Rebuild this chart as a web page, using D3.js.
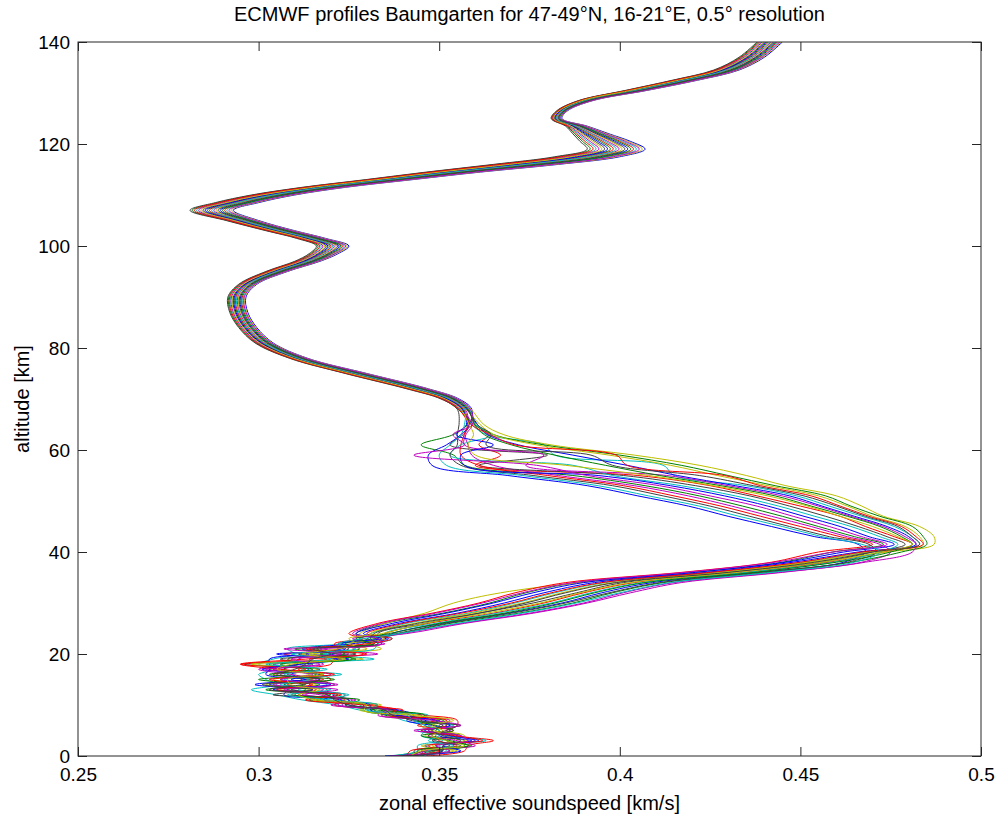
<!DOCTYPE html>
<html>
<head>
<meta charset="utf-8">
<script src="https://cdn.jsdelivr.net/npm/d3@7"></script>
<style>
  body { margin: 0; background: #fff; }
  text { font-family: "Liberation Sans", Arial, Helvetica, sans-serif; fill: #000; }
</style>
</head>
<body>
<svg id="chart" width="999" height="819"></svg>
<script>
// altitude levels [km]
const levels = [0,1,2,3,4,5,6,7,8,9,10,11,12,13,14,15,16,17,18,19,20,21,22,23,24,26,28,30,32,34,36,38,40,41.5,43,45,47,49,51,53,55,57,59,61,63,65,
  68,70,72,75,78,81,84,87,90,92.5,95,97,98.5,100,101.5,103,105,107,108.5,110,111.5,113,114.5,116,117.5,119,120.5,122,123.5,125,126.5,128.5,130.5,132.5,134.5,137,140];

// mean effective soundspeed at each level [m/s]
const meanSpeed = [341,349,352,355,351,349,350,347,340,334,327,320,315,311,311,311,312,309,308,317,319,320,328,331,333,345,362,376,387,401,431,455,471,480,476,469,460,450,439,424,405,390,377,367,361,359,
  357,353,344,327,311,301.5,297,294.5,294,297,305,313.5,318,320.5,314.5,306,295.5,287,294,304,318,336,354,374,391,399,396,392,388,382.5,384,390.5,404.5,418,429.5,436.5,441.5];

// half width of the ordered band above 65 km [m/s]
const bandHalf = [0,0,0,0,0,0,0,0,0,0,0,0,0,0,0,0,0,0,0,0,0,0,0,0,0,0,0,0,0,0,0,0,0,0,0,0,0,0,0,0,0,0,0,0,1,1.5,
  2,2.5,3,3,2.5,2.5,2.5,2.5,2.5,2.5,3,3.5,4,4.5,4,4,4.5,6,6,6,6,6.5,7.5,9,9,8,7,5,3,1.5,1.5,2,3,3.5,3.5,3.5,3.5];

// position of each profile inside that band
const bandRank = [1.0,-0.2,0.6,-0.7,0.1,0.9,-0.4,0.4,-0.9,-0.1,0.7,-0.6,0.2,-1.0,-0.3,0.5,-0.8,0.0,0.8,-0.5,0.3];

// deviation from mean, 0-23 km [m/s]
const tropoDev = [
  [2,4,-3,6,2,-2,3,-1,2,4,-3,5,-6,4,-8,6,-3,5,-4,8,-6,3,-2,4],
  [-4,-2,5,2,-3,1,-4,3,-2,-5,2,-4,7,-3,6,-5,4,-6,3,-9,5,-4,3,-3],
  [5,8,6,10,4,3,5,8,6,3,5,2,4,8,3,9,5,2,12,4,10,6,4,2],
  [-6,-5,-8,-4,-6,-3,-5,-7,-4,-6,-5,-8,-10,-13,-6,-9,-12,-4,-8,-13,-9,-12,-5,-3],
  [1,-3,2,-1,4,-2,1,3,-1,2,-4,6,-2,7,-4,2,8,-5,10,-3,14,-2,6,3],
  [-2,6,-4,3,-5,2,-3,5,-6,0,4,-2,-6,3,-9,4,-2,3,-5,12,-4,14,2,-4],
  [3,-6,1,-7,3,-4,6,-2,5,-3,6,2,9,-2,10,3,-6,8,-12,6,-8,5,-6,2],
  [-3,2,-6,4,-1,4,-2,-6,3,5,-2,3,-8,-3,-12,2,-10,-6,-5,-14,2,-8,-2,5],
  [4,0,7,-3,5,0,2,4,-5,-2,3,-6,5,-9,2,-11,6,-2,3,10,-2,8,-4,1],
  [0,-7,3,-5,-2,5,-6,2,-3,6,-6,4,-4,5,-3,7,-8,4,-13,2,-12,2,-7,-2],
  [-5,3,-2,8,1,-5,4,-4,7,-4,1,-3,10,0,8,-4,11,3,6,15,-1,12,5,6],
  [6,-4,8,0,-4,4,0,6,-7,1,-7,7,-3,11,-7,5,-3,-9,2,-6,6,-3,7,-5],
  [-1,5,-7,2,6,-1,-5,1,4,-6,7,-5,3,-5,5,-7,2,7,-10,4,-5,10,-3,4],
  [2,-1,4,-6,-4,3,5,-5,-1,3,-1,5,-11,4,-10,1,-4,-2,7,-11,8,-6,1,-1],
  [-6,7,-1,5,2,-3,3,2,-2,-3,4,-2,6,-7,9,-2,5,-8,4,5,-14,4,-5,3],
  [3,-5,6,-2,-6,5,-1,-3,6,-1,-3,8,-5,2,-4,10,-9,6,-2,9,3,-10,4,-4],
  [-3,1,-5,7,3,-4,2,5,-4,4,2,-7,8,-6,4,-8,9,-3,-13,-4,11,-7,2,6],
  [5,-2,2,-8,-1,1,-4,-4,1,-4,6,0,-7,9,-5,3,-5,10,-6,3,-10,7,-6,-2],
  [-5,4,-3,3,5,-6,6,1,-6,2,-5,3,2,-4,11,-5,3,-7,9,-8,4,-13,6,2],
  [1,-4,5,-3,-3,2,-2,7,2,-5,3,-4,-4,6,-2,-3,6,-4,1,7,-7,2,-1,-6],
  [-2,2,-1,1,0,-1,1,-3,-3,1,-2,1,4,-8,1,6,-7,1,5,-2,1,-5,5,0]
];

// deviation from mean, 24-40 km [m/s]
const stratoDev = [
  [4,6,7,8,8,8,7,7,-3],
  [-6,-10,-11,-12,-13,-13,-11,-10,-12],
  [2,2,3,3,3,3,3,3,2],
  [-2,-4,-4,-5,-5,-5,-4,-4,-3],
  [7,11,13,14,14,14,13,12,4],
  [-5,-10,-16,-22,-20,-12,-7,-2,3],
  [0,1,-1,0,1,0,-1,1,-1],
  [-4,-6,-7,-8,-8,-8,-7,-7,-5],
  [6,8,10,11,11,11,10,9,7],
  [-8,-12,-14,-15,-16,-16,-14,-13,-16],
  [2,4,4,5,5,5,4,4,1],
  [8,12,14,15,16,16,14,13,10],
  [-2,-2,-3,-3,-3,-3,-3,-3,-2],
  [5,7,8,9,10,10,8,8,0],
  [-6,-8,-10,-11,-11,-11,-10,-9,-9],
  [3,5,6,6,6,6,6,5,4],
  [-3,-5,-6,-6,-6,-6,-6,-5,-4],
  [6,10,11,12,13,13,11,10,1],
  [-7,-11,-13,-14,-14,-14,-13,-12,-12],
  [1,1,1,2,2,2,1,1,1],
  [-1,-1,-1,-2,-2,-2,-1,-1,-1]
];

// deviation from mean, 41.5-65 km [m/s]
const mesoDev = [
  [-14,-22,-27,-30,-31,-34,-33,-36,-42,-30,-15,-6,-2],
  [-7,-11,-14,-15,-16,-17,-17,-18,-33,-23,-22,-7,-1],
  [1,0,-1,1,0,-1,1,0,-30,-10,-6,2,0],
  [3,5,7,7,8,10,11,10,22,5,12,3,1],
  [-8,-13,-16,-18,-19,-20,-20,-22,-25,-18,-9,-4,-1],
  [7,11,14,13,17,21,22,30,32,27,14,6,2],
  [-1,-2,-3,-3,-3,-3,-3,-4,-29,3,-14,-4,0],
  [2,4,5,5,6,8,8,11,12,10,5,2,1],
  [5,8,12,12,14,18,19,25,27,23,12,5,2],
  [-10,-15,-19,-21,-22,-24,-23,-25,-29,-21,-11,-4,-1],
  [-3,-4,-5,-6,-6,-7,-7,-7,-3,-24,-11,3,0],
  [2,3,4,4,5,6,6,8,-16,2,-10,-3,1],
  [4,7,10,10,13,16,17,22,24,20,10,4,2],
  [-11,-18,-22,-24,-25,-27,-26,-29,-34,-24,-12,-5,-2],
  [-4,-7,-8,-9,-9,-10,-10,-11,-33,-21,-2,-6,-1],
  [1,2,3,3,3,4,4,6,6,5,3,1,0],
  [4,6,9,9,11,14,15,24,12,22,4,4,1],
  [-13,-20,-24,-27,-28,-31,-30,-32,-38,-27,-14,-5,-2],
  [-6,-9,-11,-12,-12,-14,-13,-14,-13,-34,-10,-8,-1],
  [1,1,1,1,2,2,2,3,-5,-17,-9,-1,0],
  [3,5,8,8,10,12,13,17,8,15,-4,3,1]
];

const lineColors = ['#0000ff', '#008000', '#ff0000', '#00bfbf', '#bf00bf', '#bfbf00', '#404040'];
const xTicks = [0.25, 0.3, 0.35, 0.4, 0.45, 0.5];
const yTicks = [0, 20, 40, 60, 80, 100, 120, 140];

const titleText = 'ECMWF profiles Baumgarten for 47-49°N, 16-21°E, 0.5° resolution';
const xLabel = 'zonal effective soundspeed [km/s]';
const yLabel = 'altitude [km]';

const margin = { top: 42, right: 18, bottom: 63, left: 78 };
const width = 999 - margin.left - margin.right;
const height = 819 - margin.top - margin.bottom;

const svg = d3.select('#chart');
const g = svg.append('g').attr('transform', `translate(${margin.left},${margin.top})`);

const x = d3.scaleLinear().domain([0.25, 0.5]).range([0, width]);
const y = d3.scaleLinear().domain([0, 140]).range([height, 0]);

g.append('clipPath').attr('id', 'plot-clip')
  .append('rect').attr('width', width).attr('height', height);

// one row per profile
const profiles = bandRank.map((rank, p) => {
  const dev = tropoDev[p].concat(stratoDev[p], mesoDev[p]);
  return levels.map((alt, j) => ({
    alt: alt,
    speed: (meanSpeed[j] + rank * bandHalf[j] + (dev[j] || 0)) / 1000
  }));
});

const line = d3.line()
  .x(d => x(d.speed))
  .y(d => y(d.alt))
  .curve(d3.curveCatmullRom.alpha(0.5));

g.append('g')
  .attr('clip-path', 'url(#plot-clip)')
  .selectAll('path')
  .data(profiles)
  .enter()
  .append('path')
  .attr('d', line)
  .attr('fill', 'none')
  .attr('stroke', (d, i) => lineColors[i % lineColors.length])
  .attr('stroke-width', 1);

// axes, ticks pointing inwards like matlab
const tick = 9;
const styleAxis = sel => {
  sel.select('.domain').remove();
  sel.selectAll('.tick line').attr('stroke', '#262626');
  sel.selectAll('.tick text').attr('font-size', 19).attr('fill', '#000');
};

g.append('g')
  .attr('transform', `translate(0,${height})`)
  .call(d3.axisBottom(x).tickValues(xTicks).tickSizeInner(-tick).tickSizeOuter(0).tickPadding(12)
    .tickFormat(d3.format('')))
  .call(styleAxis);

g.append('g')
  .call(d3.axisTop(x).tickValues(xTicks).tickSizeInner(-tick).tickSizeOuter(0).tickFormat(''))
  .call(styleAxis);

g.append('g')
  .call(d3.axisLeft(y).tickValues(yTicks).tickSizeInner(-tick).tickSizeOuter(0).tickPadding(8))
  .call(styleAxis);

g.append('g')
  .attr('transform', `translate(${width},0)`)
  .call(d3.axisRight(y).tickValues(yTicks).tickSizeInner(-tick).tickSizeOuter(0).tickFormat(''))
  .call(styleAxis);

g.append('rect')
  .attr('width', width)
  .attr('height', height)
  .attr('fill', 'none')
  .attr('stroke', '#262626')
  .attr('stroke-width', 1);

svg.append('text')
  .attr('x', margin.left + width / 2)
  .attr('y', 21)
  .attr('text-anchor', 'middle')
  .attr('font-size', 20)
  .text(titleText);

svg.append('text')
  .attr('x', margin.left + width / 2)
  .attr('y', 810)
  .attr('text-anchor', 'middle')
  .attr('font-size', 20)
  .text(xLabel);

svg.append('text')
  .attr('transform', `translate(29,${margin.top + height / 2}) rotate(-90)`)
  .attr('text-anchor', 'middle')
  .attr('font-size', 20)
  .text(yLabel);
</script>
</body>
</html>
